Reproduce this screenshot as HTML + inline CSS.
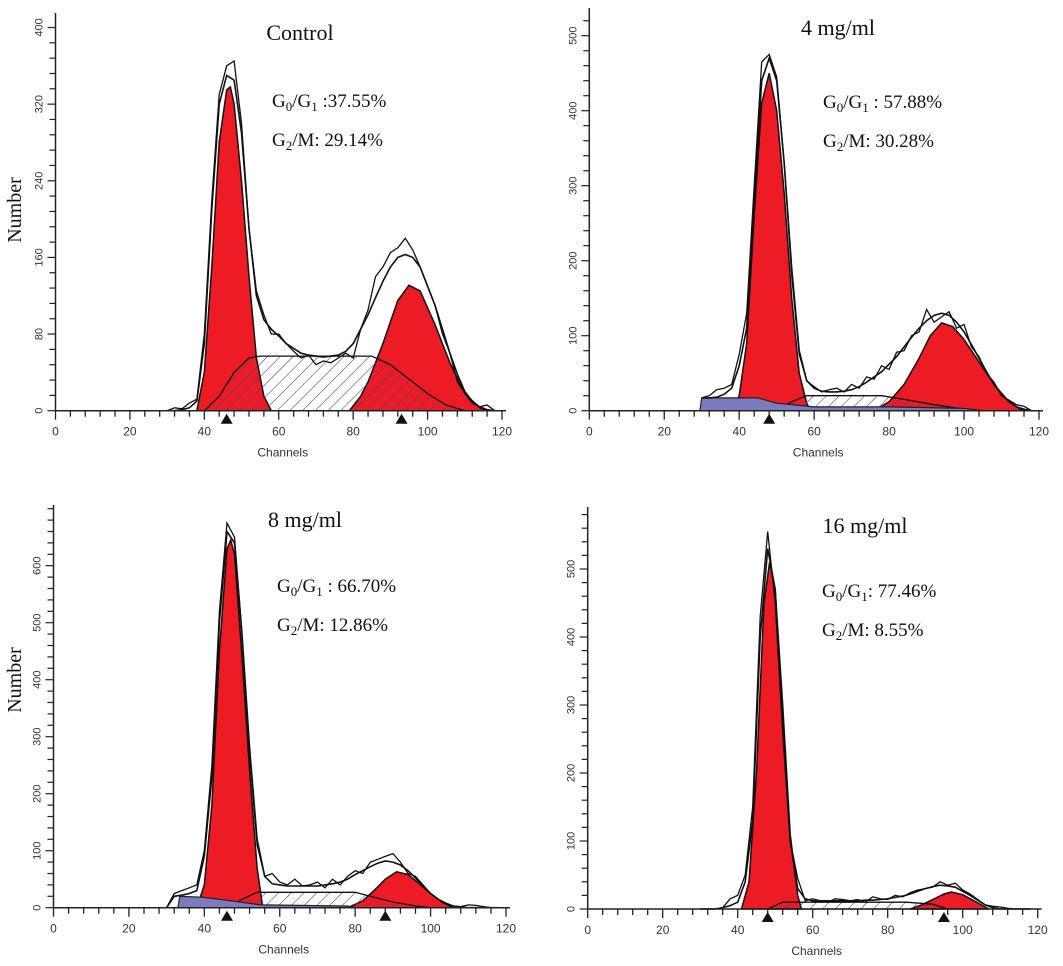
<!DOCTYPE html>
<html><head><meta charset="utf-8"><style>
html,body{margin:0;padding:0;background:#fff;}
svg{display:block;}
.tl{font-family:"Liberation Sans",sans-serif;font-size:11px;fill:#333;}
.xl{font-family:"Liberation Sans",sans-serif;font-size:12px;fill:#333;}
.ser{font-family:"Liberation Serif",serif;fill:#111;}
</style></head><body>
<svg id="fig" width="1063" height="966" viewBox="0 0 1063 966" xmlns="http://www.w3.org/2000/svg">
<defs>
<pattern id="hatch" patternUnits="userSpaceOnUse" width="9" height="9" patternTransform="rotate(45)">
<line x1="0" y1="0" x2="0" y2="9" stroke="#3d3d8f" stroke-width="1.1"/>
</pattern>
</defs>
</svg>
<script>
// ---- shared channel grid for raw/fit ----
const channels=[30,32,34,36,38,40,42,44,46,48,50,52,54,56,58,60,62,64,66,68,70,72,74,76,78,80,82,84,86,88,90,92,94,96,98,100,102,104,106,108,110,112,114,116,118];
const xTicks=[0,20,40,60,80,100,120];

// ---- Control ----
const ctrlRaw=[0,3,2,8,12,80,220,330,360,365,300,190,125,100,80,80,70,62,55,58,48,52,50,55,60,55,85,105,140,150,165,170,180,168,150,130,110,80,60,30,18,8,4,6,0];
const ctrlFit=[0,0,1,3,10,70,210,320,350,345,290,190,120,95,85,78,70,65,60,58,57,56,57,58,62,70,85,100,118,135,150,160,163,160,150,130,110,85,60,38,20,10,4,1,0];
const ctrlG1=[[38,0],[40,40],[42,150],[44,280],[46,335],[47,338],[48,320],[50,240],[52,140],[54,55],[56,15],[58,0]];
const ctrlG2=[[79,0],[82,15],[84,30],[88,70],[92,115],[95,131],[98,125],[102,90],[106,50],[110,18],[114,3],[116,0]];
const ctrlS=[[40,0],[44,15],[48,40],[52,55],[55,57],[85,57],[90,48],[95,33],[100,18],[105,6],[110,0]];
const ctrlDeb=[];
const ctrlMarks=[46,93];
const ctrlYTicks=[0,80,160,240,320,400];

// ---- 4 mg/ml ----
const m4Raw=[17,20,28,30,35,75,130,300,465,475,445,330,180,75,40,32,25,28,30,25,35,30,45,42,60,55,78,80,100,105,135,118,125,132,110,115,85,72,50,38,20,14,8,6,0];
const m4Fit=[17,17,18,22,30,60,110,280,440,470,440,330,190,80,40,30,26,25,25,26,28,32,38,45,52,62,72,85,98,110,120,127,130,127,118,105,88,70,52,35,22,12,5,2,0];
const m4G1=[[38,0],[40,20],[42,90],[44,260],[46,410],[48,450],[50,400],[52,290],[54,150],[56,50],[58,10],[59,0]];
const m4G2=[[76,0],[80,12],[84,35],[88,70],[91,100],[94,117],[97,112],[100,95],[104,65],[108,35],[112,12],[115,2],[116,0]];
const m4S=[[50,0],[54,12],[58,20],[78,20],[84,15],[92,8],[100,2],[105,0]];
const m4Deb=[[29.5,0],[30,17],[45,17],[50,10],[60,5],[80,5],[100,3],[105,0]];
const m4Marks=[48];
const m4YTicks=[0,100,200,300,400,500];

// ---- 8 mg/ml ----
const m8Raw=[0,25,30,35,40,100,250,520,675,650,480,270,110,55,60,45,40,50,38,40,45,35,50,40,55,65,60,80,85,90,95,80,60,55,40,25,15,6,3,2,5,4,2,0,0];
const m8Fit=[0,20,22,25,30,90,230,500,660,640,480,280,120,55,42,40,38,38,38,38,38,40,42,45,50,58,65,72,78,82,80,75,65,52,38,25,15,8,3,1,0,0,0,0,0];
const m8G1=[[38,0],[40,40],[42,180],[44,450],[46,630],[47,645],[48,620],[50,440],[52,240],[54,70],[55.5,0]];
const m8G2=[[78,0],[82,12],[85,30],[88,50],[91,63],[94,58],[97,42],[100,25],[103,10],[106,0]];
const m8S=[[46,0],[50,15],[54,27],[80,27],[84,20],[90,10],[96,3],[100,0]];
const m8Deb=[[33,0],[33.5,20],[40,18],[46,13],[55,5],[78,3],[80,0]];
const m8Marks=[46,88];
const m8YTicks=[0,100,200,300,400,500,600];

// ---- 16 mg/ml ----
const m16Raw=[0,0,0,2,15,20,50,150,430,555,450,260,100,45,12,15,12,10,15,14,12,14,10,18,15,14,20,18,24,28,30,32,40,35,38,28,22,14,6,4,3,1,0,0,0];
const m16Fit=[0,0,0,2,5,10,40,130,400,530,470,270,100,30,15,12,12,12,12,12,12,12,13,13,14,15,17,19,22,26,30,33,35,34,32,26,20,13,6,2,0,0,0,0,0];
const m16G1=[[41,0],[43,40],[45,200],[47,450],[48.5,510],[50,470],[52,300],[54,110],[56,20],[57,0]];
const m16G2=[[86,0],[89,6],[92,14],[95,22],[97,25],[100,21],[103,12],[106,3],[107,0]];
const m16S=[[48,0],[52,10],[85,10],[92,7],[96,0]];
const m16Deb=[];
const m16Marks=[48,95];
const m16YTicks=[0,100,200,300,400,500];

const NS='http://www.w3.org/2000/svg';
const svg=document.getElementById('fig');
function mk(tag,attrs,parent){const e=document.createElementNS(NS,tag);for(const k in attrs)e.setAttribute(k,attrs[k]);(parent||svg).appendChild(e);return e;}

function panel(p){
  const g=mk('g',{});
  
  
  const X=c=>p.x0+(c/120)*(p.x120-p.x0);
  const Y=v=>p.y0-v*p.ky;
  const poly=(pts)=>'M'+X(pts[0][0])+','+p.y0+' '+pts.map(q=>'L'+X(q[0]).toFixed(1)+','+Y(q[1]).toFixed(1)).join(' ')+' L'+X(pts[pts.length-1][0])+','+p.y0+'Z';
  const line=(xs,ys)=>xs.map((c,i)=>(i?'L':'M')+X(c).toFixed(1)+','+Y(ys[i]).toFixed(1)).join(' ');
  const sw=mk('path',{d:poly(p.s),fill:'#fff',stroke:'none'},g);
  
  const r1=mk('path',{d:poly(p.g1),fill:'#ed1c24',stroke:'#111','stroke-width':1.5},g);
  
  const r2=mk('path',{d:poly(p.g2),fill:'#ed1c24',stroke:'#111','stroke-width':1.5},g);
  
  const sh=mk('path',{d:poly(p.s),fill:'url(#hatch)',stroke:'#111','stroke-width':1.3},g);
  
  if(p.deb.length){const d=mk('path',{d:poly(p.deb),fill:'#7b7bbd',stroke:'#222','stroke-width':1.2},g);
    }
  const f=mk('path',{d:line(channels,p.fit),fill:'none',stroke:'#111','stroke-width':1.6},g);
  
  const r=mk('path',{d:line(channels,p.raw),fill:'none',stroke:'#111','stroke-width':1.3},g);
  
  const ax=mk('line',{x1:p.x0,y1:p.y0,x2:p.x120+4,y2:p.y0,stroke:'#222','stroke-width':1.5},g);
  
  const ay=mk('line',{x1:p.x0,y1:p.y0,x2:p.x0,y2:p.top,stroke:'#222','stroke-width':1.5},g);
  
  for(let c=0;c<=120;c+=4){const maj=c%20===0;
    mk('line',{x1:X(c),y1:p.y0,x2:X(c),y2:p.y0+(maj?9:6),stroke:'#222','stroke-width':1.3},g);}
  xTicks.forEach(c=>{const t=mk('text',{x:X(c),y:p.y0+25,'text-anchor':'middle',class:'xl'},g);t.textContent=c;
    });
  const maxV=(p.y0-p.top)/p.ky;
  for(let v=0;v<=maxV;v+=p.minor){const maj=p.yt.includes(v);
    mk('line',{x1:p.x0,y1:Y(v),x2:p.x0-(maj?8:6),y2:Y(v),stroke:'#222','stroke-width':1.2},g);}
  p.yt.forEach(v=>{const t=mk('text',{x:0,y:0,'text-anchor':'middle',class:'tl',transform:`translate(${p.x0-13},${Y(v)}) rotate(-90)`},g);t.textContent=v;
    });
  const ct=mk('text',{x:(p.x0+p.x120)/2+4,y:p.y0+46,'text-anchor':'middle',class:'xl','font-size':'13'},g);ct.textContent='Channels';
  
  p.marks.forEach(c=>{const m=mk('path',{d:`M${X(c)-6},${p.y0+13} L${X(c)+6},${p.y0+13} L${X(c)},${p.y0+3}Z`,fill:'#111'},g);
    });
  const ti=mk('text',{x:p.tx,y:p.ty,'text-anchor':'middle',class:'ser','font-size':'22'},g);ti.textContent=p.title;
  
  const s1=mk('text',{x:p.sx,y:p.sy,class:'ser','font-size':'19'},g);
  s1.innerHTML='G<tspan font-size="13" dy="4">0</tspan><tspan dy="-4">/G</tspan><tspan font-size="13" dy="4">1</tspan><tspan dy="-4">'+p.s1+'</tspan>';
  
  const s2=mk('text',{x:p.sx,y:p.sy+39,class:'ser','font-size':'19'},g);
  s2.innerHTML='G<tspan font-size="13" dy="4">2</tspan><tspan dy="-4">'+p.s2+'</tspan>';
  
  if(p.ylabel){const yl=mk('text',{x:0,y:0,'text-anchor':'middle',class:'ser','font-size':'20',transform:`translate(21,${p.yly}) rotate(-90)`},g);yl.textContent='Number';
    }
}

panel({name:'control-panel',x0:55.5,x120:502,y0:410.7,ky:0.958,top:13,minor:16,yt:ctrlYTicks,raw:ctrlRaw,fit:ctrlFit,g1:ctrlG1,g2:ctrlG2,s:ctrlS,deb:ctrlDeb,marks:ctrlMarks,
  title:'Control',tx:300,ty:40,sx:272,sy:107,s1:' :37.55%',s2:'/M: 29.14%',ylabel:true,yly:210});
panel({name:'4mg-panel',x0:589.3,x120:1039,y0:410.7,ky:0.75,top:8,minor:20,yt:m4YTicks,raw:m4Raw,fit:m4Fit,g1:m4G1,g2:m4G2,s:m4S,deb:m4Deb,marks:m4Marks,
  title:'4 mg/ml',tx:838,ty:35,sx:823,sy:108,s1:' : 57.88%',s2:'/M:  30.28%',ylabel:false});
panel({name:'8mg-panel',x0:53.5,x120:506,y0:907.7,ky:0.57,top:505,minor:20,yt:m8YTicks,raw:m8Raw,fit:m8Fit,g1:m8G1,g2:m8G2,s:m8S,deb:m8Deb,marks:m8Marks,
  title:'8 mg/ml',tx:305,ty:527,sx:277,sy:592,s1:' :  66.70%',s2:'/M:  12.86%',ylabel:true,yly:680});
panel({name:'16mg-panel',x0:587.7,x120:1037.7,y0:909,ky:0.68,top:507,minor:20,yt:m16YTicks,raw:m16Raw,fit:m16Fit,g1:m16G1,g2:m16G2,s:m16S,deb:m16Deb,marks:m16Marks,
  title:'16 mg/ml',tx:865,ty:533,sx:822,sy:597,s1:':  77.46%',s2:'/M:    8.55%',ylabel:false});
</script>
</body></html>
